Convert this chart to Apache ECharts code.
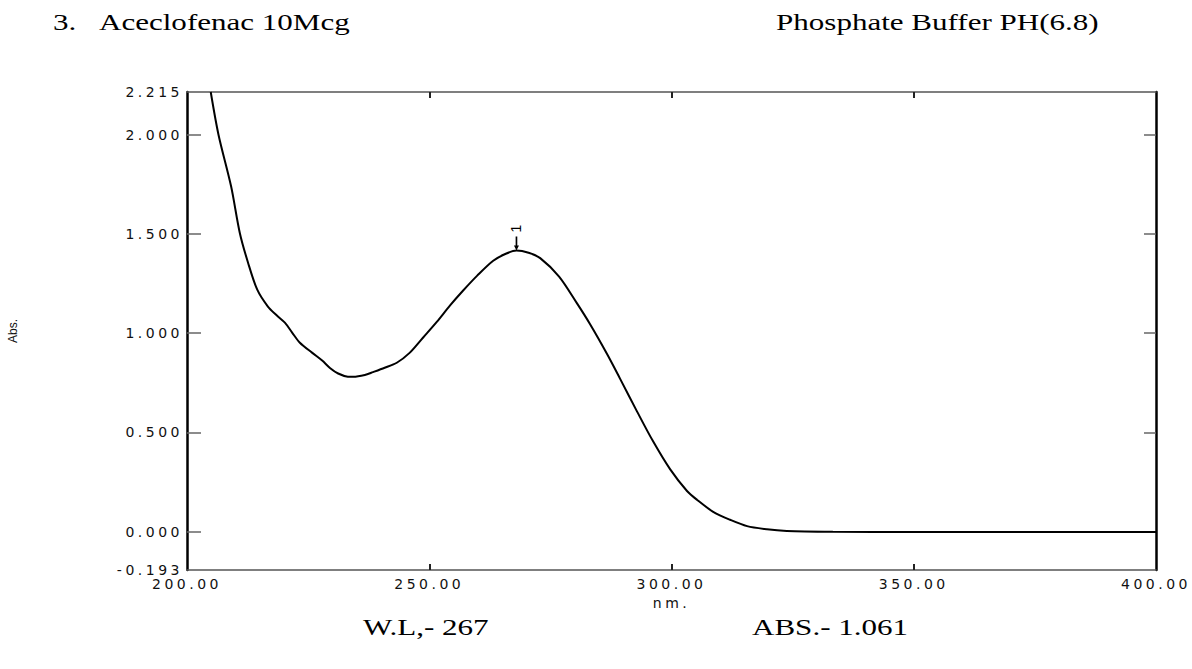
<!DOCTYPE html>
<html><head><meta charset="utf-8">
<script src="https://cdn.jsdelivr.net/npm/echarts@6/dist/echarts.min.js"></script>
<style>
html,body{margin:0;padding:0;background:#fff;}
#chart{width:1192px;height:669px;}
#chart text[style*="DejaVu"], #chart text[font-family*="DejaVu"]{letter-spacing:3.5px;}
</style></head><body><div id="chart"></div>
<script>
// Spectrum data (nm, Abs.)
const wavelength = [204.9, 206.5, 209.1, 210.9, 212.6, 214.5, 216.7, 218.5, 220.2, 221.7, 223.3, 225.8, 227.9, 229.5, 231.2, 233.2, 234.3, 236.7, 238.4, 240.8, 243.3, 246.0, 248.7, 251.6, 254.3, 257.0, 259.9, 263.2, 265.8, 268.0, 270.5, 272.9, 276.8, 280.5, 283.2, 286.7, 289.4, 292.9, 296.2, 299.7, 303.2, 305.3, 308.6, 312.1, 315.6, 319.7, 323.8, 333.3, 350.0, 375.0, 400.0];
const absorbance = [2.215, 2.000, 1.740, 1.505, 1.355, 1.219, 1.134, 1.090, 1.053, 1.003, 0.952, 0.902, 0.862, 0.825, 0.797, 0.781, 0.780, 0.789, 0.804, 0.826, 0.851, 0.902, 0.977, 1.058, 1.140, 1.215, 1.290, 1.365, 1.400, 1.416, 1.405, 1.378, 1.285, 1.150, 1.045, 0.895, 0.770, 0.605, 0.455, 0.315, 0.205, 0.160, 0.100, 0.060, 0.028, 0.012, 0.004, 0.000, -0.002, -0.002, -0.002];
const xLabelValues = [200, 250, 300, 350, 400];
const xTickValues = [250, 300, 350];
const yLabelValues = [-0.193, 0, 0.5, 1, 1.5, 2, 2.215];
const yTickValues = [0, 0.5, 1, 1.5, 2];
const xRange = [200, 400];
const yRange = [-0.193, 2.215];
const peakPoint = [268.0, 1.416];
const peakLabel = '1';
const headingNumber = '3.';
const headingLeft = 'Aceclofenac 10Mcg';
const headingRight = 'Phosphate Buffer PH(6.8)';
const footLeft = 'W.L,- 267';
const footRight = 'ABS.- 1.061';
const xName = 'nm.';
const yName = 'Abs.';

const chart = echarts.init(document.getElementById('chart'), null, {renderer: 'svg'});
const labelFont = {fontFamily: 'DejaVu Sans', fontSize: 14, color: '#111'};
const serif = '23px "Liberation Serif"';
function txt(x, y, t) {
  return {type: 'text', x: x, y: y, scaleX: 1.35, scaleY: 1,
    style: {text: t, font: serif, fill: '#000', align: 'left', verticalAlign: 'middle'}};
}
chart.setOption({
  animation: false,
  backgroundColor: '#fff',
  grid: {left: 187, right: 36, top: 92, bottom: 99, containLabel: false, outerBoundsMode: 'none'},
  xAxis: [{
    type: 'value', position: 'bottom', min: xRange[0], max: xRange[1], interval: 50,
    axisLine: {show: true, onZero: false, lineStyle: {color: '#555', width: 1.5}},
    axisTick: {show: true, inside: true, length: 6, customValues: xTickValues, lineStyle: {color: '#222', width: 2}},
    axisLabel: Object.assign({show: true, margin: 7, customValues: xLabelValues, showMinLabel: true, showMaxLabel: true,
      formatter: v => Number(v).toFixed(2)}, labelFont),
    splitLine: {show: false},
    name: xName, nameLocation: 'middle', nameGap: 14,
    nameTextStyle: {fontFamily: 'DejaVu Sans', fontSize: 14, color: '#111'}
  }, {
    type: 'value', position: 'top', min: xRange[0], max: xRange[1], interval: 50,
    axisLine: {show: true, onZero: false, lineStyle: {color: '#555', width: 1.5}},
    axisTick: {show: true, inside: true, length: 6, customValues: xTickValues, lineStyle: {color: '#222', width: 2}},
    axisLabel: {show: false}, splitLine: {show: false}
  }],
  yAxis: [{
    type: 'value', position: 'left', min: yRange[0], max: yRange[1],
    axisLine: {show: true, onZero: false, lineStyle: {color: '#000', width: 2.5}},
    axisTick: {show: true, inside: true, length: 14, customValues: yTickValues, lineStyle: {color: '#666', width: 1.5}},
    axisLabel: Object.assign({show: true, margin: 4, customValues: yLabelValues, showMinLabel: true, showMaxLabel: true,
      formatter: v => Number(v).toFixed(3)}, labelFont),
    splitLine: {show: false},
    name: yName, nameLocation: 'middle', nameRotate: 90, nameGap: 168,
    nameTextStyle: {fontFamily: 'Liberation Sans', fontSize: 12, color: '#111'}
  }, {
    type: 'value', position: 'right', min: yRange[0], max: yRange[1],
    axisLine: {show: true, onZero: false, lineStyle: {color: '#000', width: 2.5}},
    axisTick: {show: true, inside: true, length: 12, customValues: yTickValues, lineStyle: {color: '#666', width: 1.5}},
    axisLabel: {show: false}, splitLine: {show: false}
  }],
  series: [{
    type: 'line', xAxisIndex: 0, yAxisIndex: 0,
    data: wavelength.map((w, i) => [w, absorbance[i]]),
    showSymbol: false, symbol: 'none', smooth: 0.3, clip: true,
    lineStyle: {color: '#000', width: 2},
    markPoint: {
      symbol: 'path://M2,0 L4,0 L4,9 L6,9 L3,14 L0,9 L2,9 Z',
      symbolSize: [5, 14], symbolKeepAspect: false, symbolOffset: [0, '-50%'],
      itemStyle: {color: '#000'},
      label: {show: true, formatter: peakLabel, position: 'top', distance: 8, rotate: 90,
        align: 'center', verticalAlign: 'middle', color: '#000', fontFamily: 'Liberation Sans', fontSize: 14},
      data: [{coord: peakPoint}]
    }
  }],
  graphic: [
    txt(53, 22, headingNumber),
    txt(99, 22, headingLeft),
    txt(776, 22, headingRight),
    txt(363, 627, footLeft),
    txt(752, 627, footRight)
  ]
});
</script></body></html>
